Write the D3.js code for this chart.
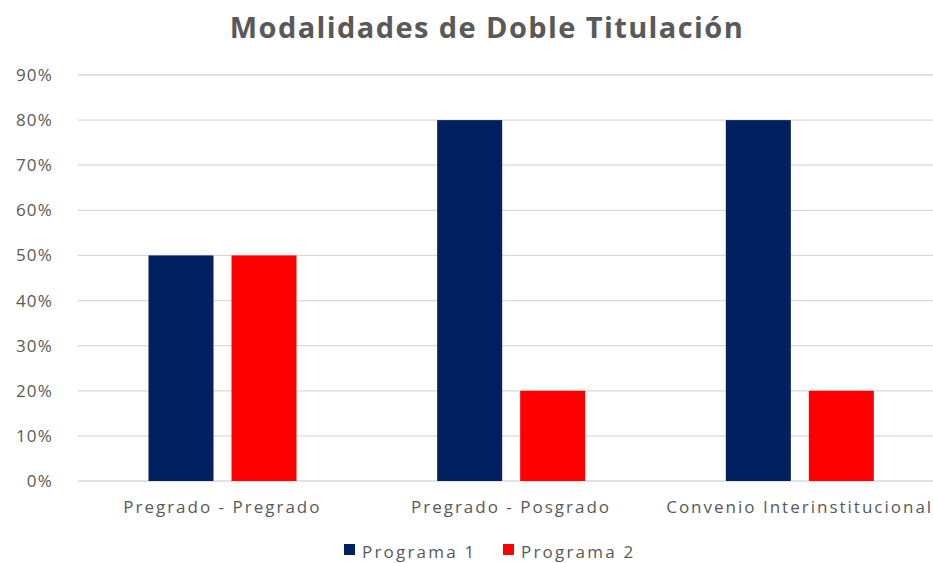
<!DOCTYPE html>
<html>
<head>
<meta charset="utf-8">
<script src="https://cdn.jsdelivr.net/npm/d3@7"></script>
<style>
  body { margin: 0; background: #fff; }
  svg text { font-family: "Open Sans", "DejaVu Sans", sans-serif; }
</style>
</head>
<body>
<svg id="chart" width="933" height="563"></svg>
<script>
const categories = ["Pregrado - Pregrado", "Pregrado - Posgrado", "Convenio Interinstitucional"];
const seriesNames = ["Programa 1", "Programa 2"];
const programa1 = [0.5, 0.8, 0.8];
const programa2 = [0.5, 0.2, 0.2];
const yTicks = [0, 0.1, 0.2, 0.3, 0.4, 0.5, 0.6, 0.7, 0.8, 0.9];
const colors = ["#002060", "#ff0000"];

const svg = d3.select("#chart");
const plotLeft = 78, plotRight = 944, plotTop = 75, plotBottom = 481;

const x0 = d3.scaleBand().domain(categories).range([plotLeft, plotRight]).padding(0);
const x1 = d3.scaleBand().domain(seriesNames).range([70.5, 218.5]).paddingInner(0.217).paddingOuter(0);
const y = d3.scaleLinear().domain([0, 0.9]).range([plotBottom, plotTop]);

// title
svg.append("text")
  .attr("x", 487).attr("y", 38)
  .attr("text-anchor", "middle")
  .attr("font-size", 29).attr("font-weight", "bold")
  .attr("letter-spacing", 1.4)
  .attr("fill", "#595959")
  .text("Modalidades de Doble Titulación");

// gridlines
svg.append("g").selectAll("line").data(yTicks).join("line")
  .attr("x1", plotLeft).attr("x2", plotRight)
  .attr("y1", d => y(d)).attr("y2", d => y(d))
  .attr("stroke", "#d9d9d9").attr("stroke-width", 1.3);

// y axis labels
const yAxis = d3.axisLeft(y).tickValues(yTicks).tickFormat(d3.format(".0%")).tickSize(0).tickPadding(25);
svg.append("g").attr("transform", `translate(${plotLeft},0)`).call(yAxis)
  .call(g => g.select(".domain").remove())
  .call(g => g.selectAll("text").attr("font-size", 17).attr("fill", "#595959")
    .attr("letter-spacing", 1.2)
    .attr("font-family", "\"Open Sans\", sans-serif"));

// bars
const rows = categories.map((c, i) => ({ cat: c, vals: [programa1[i], programa2[i]] }));
const groups = svg.append("g").selectAll("g").data(rows).join("g")
  .attr("transform", d => `translate(${x0(d.cat)},0)`);
groups.selectAll("rect").data(d => d.vals.map((v, j) => ({ s: seriesNames[j], v, j })))
  .join("rect")
  .attr("x", d => x1(d.s))
  .attr("width", x1.bandwidth())
  .attr("y", d => y(d.v))
  .attr("height", d => y(0) - y(d.v))
  .attr("fill", d => colors[d.j]);

// x axis labels
const xAxis = d3.axisBottom(x0).tickSize(0).tickPadding(20);
svg.append("g").attr("transform", `translate(0,${plotBottom})`).call(xAxis)
  .call(g => g.select(".domain").remove())
  .call(g => g.selectAll("text").attr("font-size", 17).attr("fill", "#595959")
    .attr("letter-spacing", 2)
    .attr("font-family", "\"Open Sans\", sans-serif"));

// legend
const legendX = [344, 503];
const legend = svg.append("g").selectAll("g").data(seriesNames).join("g")
  .attr("transform", (d, i) => `translate(${legendX[i]},544)`);
legend.append("rect").attr("width", 11).attr("height", 11).attr("fill", (d, i) => colors[i]);
legend.append("text").attr("x", 18).attr("y", 14)
  .attr("font-size", 17).attr("fill", "#595959").attr("letter-spacing", 2.2)
  .text(d => d);
</script>
</body>
</html>
